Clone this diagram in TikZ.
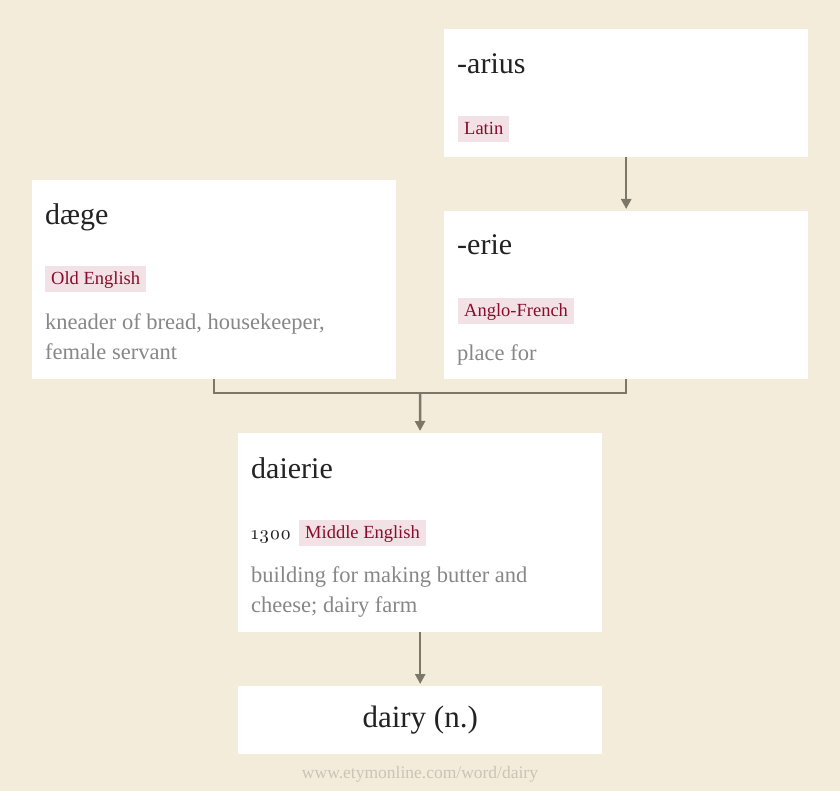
\documentclass[tikz,border=0pt]{standalone}
\usepackage{fontspec}
\setmainfont{Liberation Serif}
\newfontfamily\yearfont{lmroman10-regular.otf}[Numbers=OldStyle]
\usetikzlibrary{positioning, arrows.meta}

\definecolor{paper}{HTML}{F3ECDB}
\definecolor{ink}{HTML}{222222}
\definecolor{tagbg}{HTML}{F2E2E5}
\definecolor{tagred}{HTML}{8A0B2C}
\definecolor{glossgray}{HTML}{878787}
\definecolor{linkc}{HTML}{7D7767}
\definecolor{creditc}{HTML}{CBC4B5}

\tikzset{
    card/.style={fill=white, anchor=north west, inner sep=0pt,
        minimum width=364pt},
    word/.style={anchor=base west, inner sep=0pt, text=ink,
        font=\fontsize{30}{32}\selectfont},
    lang/.style={fill=tagbg, text=tagred, inner xsep=6pt, inner ysep=0pt,
        text height=12pt, text depth=1pt,
        minimum height=26pt, font=\fontsize{18.5}{20}\selectfont},
    gloss/.style={anchor=north west, inner sep=0pt, text=glossgray,
        align=left, font=\fontsize{22.5}{30}\selectfont},
    link/.style={draw=linkc, line width=2.5pt},
}

\begin{document}
\begin{tikzpicture}[x=1pt, y=-1pt, > = {Triangle[width=10pt, length=10pt]}]
    \fill [paper] (0,0) rectangle (840,791);
    \useasboundingbox (0,0) rectangle (840,791);

    % cards
    \node [card, minimum height=128pt] (arius) at (444,29) {};
    \node [card, minimum height=199pt] (daege) at (32,180) {};
    \node [card, minimum height=168pt] (erie) at (444,211) {};
    \node [card, minimum height=199pt] (daierie) at (238,433) {};
    \node [card, minimum height=68pt] (dairy) at (238,686) {};

    % -arius
    \node [word] (ariusword) at (457,74) {-arius};
    \node [lang, below right=87pt and 14pt of arius.north west] (ariuslang) {Latin};

    % daege
    \node [word] (daegeword) at (45,225) {dæge};
    \node [lang, below right=86pt and 13pt of daege.north west] (daegelang) {Old English};
    \node [gloss, below right=133pt and 13pt of daege.north west] (daegegloss)
        {kneader of bread, housekeeper,\\female servant};

    % -erie
    \node [word] (erieword) at (457,255) {-erie};
    \node [lang, below right=87pt and 14pt of erie.north west] (erielang) {Anglo-French};
    \node [gloss, below right=133pt and 13pt of erie.north west] (eriegloss) {place for};

    % daierie
    \node [word] (daierieword) at (251,478) {daierie};
    \node [anchor=base west, inner sep=0pt, text=ink,
        font=\yearfont\fontsize{19}{20}\selectfont] (daierieyear) at (251,539) {1300};
    \node [lang, below right=87pt and 61pt of daierie.north west] (daierielang) {Middle English};
    \node [gloss, below right=133pt and 13pt of daierie.north west] (dairiegloss)
        {building for making butter and\\cheese; dairy farm};

    % dairy (n.)
    \node [inner sep=0pt, text=ink, font=\fontsize{31}{32}\selectfont]
        (dairyword) at (dairy) {dairy (n.)};

    % credit
    \node [inner sep=0pt, text=creditc, font=\fontsize{17.5}{18}\selectfont]
        (credit) at (420,774) {www.etymonline.com/word/dairy};

    % links
    \coordinate (join) at (420,393);
    \draw [link, ->, shorten >=2pt] (arius) -- (erie);
    \draw [link] (daege.south) |- (join) -| (erie.south);
    \draw [link, ->, shorten >=2pt] (join) -- (daierie);
    \draw [link, ->, shorten >=2pt] (daierie) -- (dairy);
\end{tikzpicture}
\end{document}
